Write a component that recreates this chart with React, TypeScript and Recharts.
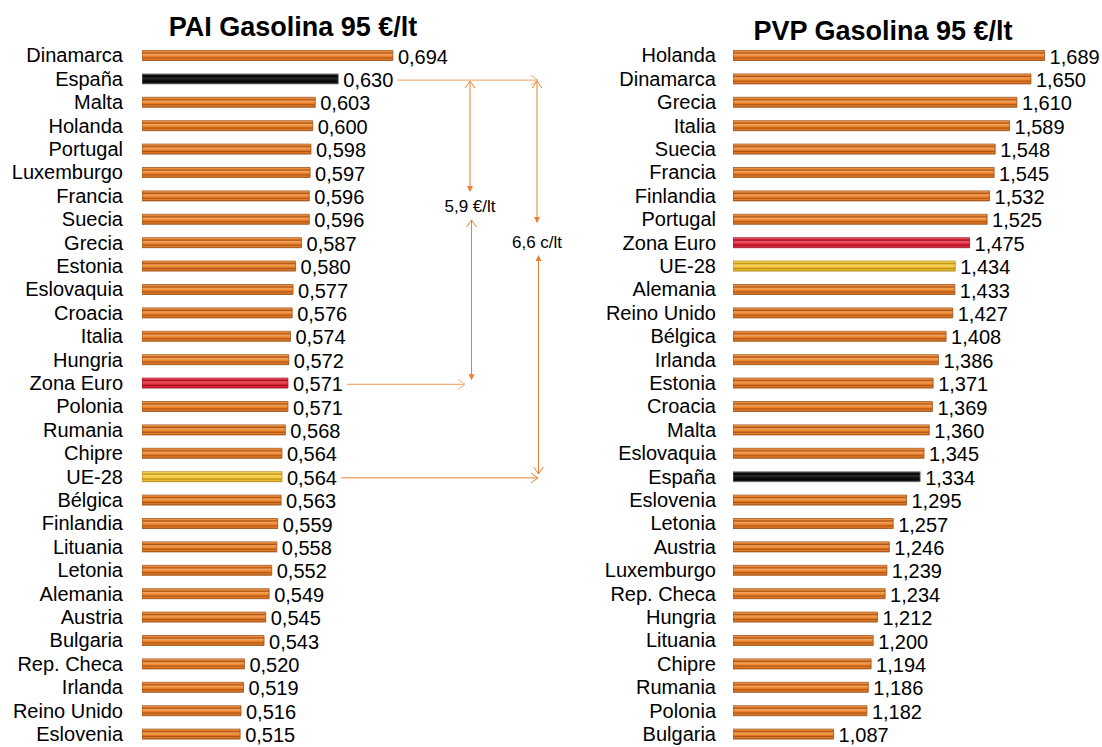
import React from "react"
import { BarChart, Bar, XAxis, YAxis, Cell, LabelList } from "recharts"

// PAI (precio antes de impuestos)
const paiPaises = [
  "Dinamarca", "España", "Malta", "Holanda", "Portugal", "Luxemburgo", "Francia", "Suecia",
  "Grecia", "Estonia", "Eslovaquia", "Croacia", "Italia", "Hungria", "Zona Euro", "Polonia",
  "Rumania", "Chipre", "UE-28", "Bélgica", "Finlandia", "Lituania", "Letonia", "Alemania",
  "Austria", "Bulgaria", "Rep. Checa", "Irlanda", "Reino Unido", "Eslovenia",
]
const paiValores = [
  0.694, 0.63, 0.603, 0.6, 0.598, 0.597, 0.596, 0.596,
  0.587, 0.58, 0.577, 0.576, 0.574, 0.572, 0.571, 0.571,
  0.568, 0.564, 0.564, 0.563, 0.559, 0.558, 0.552, 0.549,
  0.545, 0.543, 0.52, 0.519, 0.516, 0.515,
]

// PVP (precio de venta al público)
const pvpPaises = [
  "Holanda", "Dinamarca", "Grecia", "Italia", "Suecia", "Francia", "Finlandia", "Portugal",
  "Zona Euro", "UE-28", "Alemania", "Reino Unido", "Bélgica", "Irlanda", "Estonia", "Croacia",
  "Malta", "Eslovaquia", "España", "Eslovenia", "Letonia", "Austria", "Luxemburgo", "Rep. Checa",
  "Hungria", "Lituania", "Chipre", "Rumania", "Polonia", "Bulgaria",
]
const pvpValores = [
  1.689, 1.65, 1.61, 1.589, 1.548, 1.545, 1.532, 1.525,
  1.475, 1.434, 1.433, 1.427, 1.408, 1.386, 1.371, 1.369,
  1.36, 1.345, 1.334, 1.295, 1.257, 1.246, 1.239, 1.234,
  1.212, 1.2, 1.194, 1.186, 1.182, 1.087,
]

const paiDominio: [number, number] = [0.4, 0.7]
const pvpDominio: [number, number] = [0.8, 1.8]

const FONT = "'Liberation Sans', Arial, Helvetica, sans-serif"
const TOP = 43.5
const BAND = 23.4
const BOTTOM = 2

const fmt = (v: any) => Number(v).toFixed(3).replace(".", ",")

const fillFor = (id: string, pais: string) => {
  if (pais === "España") return `url(#${id}-negro)`
  if (pais === "Zona Euro") return `url(#${id}-rojo)`
  if (pais === "UE-28") return `url(#${id}-amarillo)`
  return `url(#${id}-naranja)`
}
const strokeFor = (pais: string) => {
  if (pais === "España") return "#7a7a7a"
  if (pais === "Zona Euro") return "#a01828"
  if (pais === "UE-28") return "#b08a18"
  return "#9a5018"
}

function Grad({ id, c }: { id: string; c: string[] }) {
  return (
    <linearGradient id={id} x1="0" y1="0" x2="0" y2="1">
      <stop offset="0" stopColor={c[0]} />
      <stop offset="0.14" stopColor={c[1]} />
      <stop offset="0.26" stopColor={c[2]} />
      <stop offset="0.38" stopColor={c[3]} />
      <stop offset="0.62" stopColor={c[1]} />
      <stop offset="0.74" stopColor={c[2]} />
      <stop offset="0.86" stopColor={c[1]} />
      <stop offset="1" stopColor={c[4]} />
    </linearGradient>
  )
}

function GasBars({ id, paises, valores, dominio, left, axisWidth, plotWidth, width, tickMargin }: any) {
  const data = paises.map((pais: string, i: number) => ({ pais, valor: valores[i] }))
  const height = TOP + paises.length * BAND + BOTTOM
  return (
    <div style={{ position: "absolute", left, top: 0 }}>
      <BarChart
        layout="vertical"
        width={width}
        height={height}
        data={data}
        margin={{ top: TOP, right: width - axisWidth - plotWidth, bottom: BOTTOM, left: 0 }}
        style={{ fontFamily: FONT }}
      >
        <defs>
          <Grad id={`${id}-naranja`} c={["#f8c08c", "#ea7d24", "#a9561a", "#f4a45c", "#b35a1a"]} />
          <Grad id={`${id}-rojo`} c={["#f5909a", "#e0283a", "#a01020", "#ef5a68", "#b01828"]} />
          <Grad id={`${id}-amarillo`} c={["#fbe6a0", "#f2c232", "#b89014", "#f8d868", "#c09a1c"]} />
          <Grad id={`${id}-negro`} c={["#5a5a5a", "#141414", "#000000", "#2a2a2a", "#101010"]} />
        </defs>
        <XAxis type="number" domain={dominio} hide allowDataOverflow />
        <YAxis
          type="category"
          dataKey="pais"
          width={axisWidth}
          tickSize={0}
          tickMargin={tickMargin}
          axisLine={false}
          tickLine={false}
          interval={0}
          tick={{ fill: "#000", fontSize: 20, fontFamily: FONT }}
        />
        <Bar dataKey="valor" barSize={10} isAnimationActive={false}>
          {data.map((d: any) => (
            <Cell key={d.pais} fill={fillFor(id, d.pais)} stroke={strokeFor(d.pais)} strokeWidth={0.8} />
          ))}
          <LabelList
            dataKey="valor"
            position="right"
            offset={5}
            formatter={fmt}
            fill="#000"
            fontSize={20}
            fontFamily={FONT}
            dy={1}
          />
        </Bar>
      </BarChart>
    </div>
  )
}

// escala del gráfico izquierdo, para colocar las flechas de diferencia
const L_AXIS = 142
const L_PLOT = 256
const xPai = (v: number) => L_AXIS + ((v - paiDominio[0]) / (paiDominio[1] - paiDominio[0])) * L_PLOT
const yFila = (i: number) => TOP + BAND * (i + 0.5) + 1.5
const finEtiqueta = (v: number) => xPai(v) + 5 + 54

const CLARO = "#f3b07a"
const OSCURO = "#ee7f2e"

const abierta = (x: number, y: number, dir: string, color: string) => {
  const s = 7
  const pts =
    dir === "right" ? `${x - s},${y - s * 0.7} ${x},${y} ${x - s},${y + s * 0.7}` :
    dir === "up" ? `${x - s * 0.7},${y + s} ${x},${y} ${x + s * 0.7},${y + s}` :
    `${x - s * 0.7},${y - s} ${x},${y} ${x + s * 0.7},${y - s}`
  return <polyline points={pts} fill="none" stroke={color} strokeWidth={1} />
}
const llena = (x: number, y: number, dir: string, color: string) => {
  const s = 6
  const pts = dir === "up"
    ? `${x - 3},${y + s} ${x},${y} ${x + 3},${y + s}`
    : `${x - 3},${y - s} ${x},${y} ${x + 3},${y - s}`
  return <polygon points={pts} fill={color} stroke="none" />
}

function Anotaciones() {
  const iEsp = paiPaises.indexOf("España")
  const iZE = paiPaises.indexOf("Zona Euro")
  const iUE = paiPaises.indexOf("UE-28")
  const yEsp = yFila(iEsp)
  const yZE = yFila(iZE)
  const yUE = yFila(iUE)
  const xA = 470
  const xB = 537
  return (
    <svg width={1102} height={747} style={{ position: "absolute", left: 0, top: 0, pointerEvents: "none", fontFamily: FONT }}>
      <text x={293} y={36} textAnchor="middle" fontSize={27} fontWeight="bold" fill="#000">PAI Gasolina 95 €/lt</text>
      <text x={883} y={40} textAnchor="middle" fontSize={27} fontWeight="bold" fill="#000">PVP Gasolina 95 €/lt</text>

      {/* horizontales */}
      <line x1={finEtiqueta(paiValores[iEsp])} y1={yEsp} x2={xB + 1} y2={yEsp} stroke={CLARO} strokeWidth={1.2} />
      {abierta(xB + 1, yEsp, "right", CLARO)}
      <line x1={finEtiqueta(paiValores[iZE])} y1={yZE} x2={465} y2={yZE} stroke={CLARO} strokeWidth={1.2} />
      {abierta(465, yZE, "right", CLARO)}
      <line x1={finEtiqueta(paiValores[iUE])} y1={yUE} x2={538} y2={yUE} stroke={OSCURO} strokeWidth={1} />
      {abierta(538, yUE, "right", OSCURO)}

      {/* España - Zona Euro */}
      <line x1={xA} y1={yEsp + 1} x2={xA} y2={191} stroke={OSCURO} strokeWidth={1} />
      {abierta(xA, yEsp + 1, "up", OSCURO)}
      {llena(xA, 192, "down", OSCURO)}
      <text x={xA} y={206} textAnchor="middle" dominantBaseline="central" fontSize={17} fill="#000">5,9 €/lt</text>
      <line x1={xA + 1.5} y1={220} x2={xA + 1.5} y2={yZE - 5} stroke={OSCURO} strokeWidth={1} />
      {abierta(xA + 1.5, 220, "up", OSCURO)}
      {llena(xA + 1.5, yZE - 4, "down", OSCURO)}

      {/* España - UE-28 */}
      <line x1={xB} y1={yEsp + 1} x2={xB} y2={222} stroke={OSCURO} strokeWidth={1} />
      {abierta(xB, yEsp + 1, "up", OSCURO)}
      {llena(xB, 223, "down", OSCURO)}
      <text x={xB} y={242} textAnchor="middle" dominantBaseline="central" fontSize={17} fill="#000">6,6 c/lt</text>
      <line x1={xB + 1.5} y1={256} x2={xB + 1.5} y2={yUE - 4} stroke={OSCURO} strokeWidth={1} />
      {llena(xB + 1.5, 255, "up", OSCURO)}
      {abierta(xB + 1.5, yUE - 4, "down", OSCURO)}
    </svg>
  )
}

export default function App() {
  return (
    <div style={{ position: "fixed", left: 0, top: 0, width: 1102, height: 747, overflow: "hidden", background: "#fff", fontFamily: FONT }}>
      <GasBars
        id="pai"
        paises={paiPaises}
        valores={paiValores}
        dominio={paiDominio}
        left={0}
        axisWidth={L_AXIS}
        plotWidth={L_PLOT}
        width={460}
        tickMargin={19}
      />
      <GasBars
        id="pvp"
        paises={pvpPaises}
        valores={pvpValores}
        dominio={pvpDominio}
        left={590}
        axisWidth={143}
        plotWidth={350.5}
        width={512}
        tickMargin={17}
      />
      <Anotaciones />
    </div>
  )
}
